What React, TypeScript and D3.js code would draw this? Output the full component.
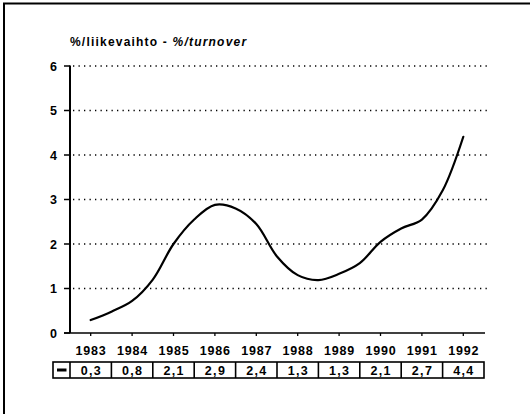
import React from "react";
import * as d3 from "d3";

const years = [1983, 1984, 1985, 1986, 1987, 1988, 1989, 1990, 1991, 1992];
const tableValues = ["0,3", "0,8", "2,1", "2,9", "2,4", "1,3", "1,3", "2,1", "2,7", "4,4"];
const curveX = [1983, 1983.5, 1984, 1984.5, 1985, 1985.5, 1986, 1986.5, 1987, 1987.5, 1988, 1988.5, 1989, 1989.5, 1990, 1990.5, 1991, 1991.5, 1992];
const curveY = [0.29, 0.48, 0.72, 1.2, 2.0, 2.55, 2.88, 2.8, 2.45, 1.72, 1.3, 1.19, 1.33, 1.57, 2.05, 2.35, 2.55, 3.2, 4.41];
const yTicks = [0, 1, 2, 3, 4, 5, 6];

const W = 530;
const H = 414;
const FONT = "'Liberation Sans', Arial, Helvetica, sans-serif";

export default function App() {
  const x = d3.scaleLinear().domain([1982.5, 1992.5]).range([70, 484]);
  const band = d3.scaleBand<number>().domain(years).range([70, 484]).padding(0);
  const y = d3.scaleLinear().domain([0, 6]).range([333, 66]);
  const pts: [number, number][] = curveX.map((d, i) => [d, curveY[i]]);
  const line = d3
    .line<[number, number]>()
    .x((d) => x(d[0]))
    .y((d) => y(d[1]))
    .curve(d3.curveCatmullRom.alpha(0.5));

  const tTop = 362;
  const tBot = 378;
  return (
    <svg
      width={W}
      height={H}
      style={{ position: "absolute", left: 0, top: 0, background: "#fff" }}
      fontFamily={FONT}
    >
      <rect x={0} y={0} width={W} height={H} fill="#fff" />
      {/* frame */}
      <line x1={3} x2={W} y1={3.5} y2={3.5} stroke="#000" strokeWidth={2} />
      <line x1={4} x2={4} y1={3} y2={H} stroke="#000" strokeWidth={2} />

      {/* title */}
      <text x={70} y={46} fontSize={12} fontWeight="bold" letterSpacing={1.2} fill="#000">
        %/liikevaihto -{" "}
        <tspan fontStyle="italic">%/turnover</tspan>
      </text>

      {/* grid */}
      {yTicks
        .filter((t) => t > 0)
        .map((t) => (
          <line
            key={"g" + t}
            x1={73}
            x2={488}
            y1={y(t)}
            y2={y(t)}
            stroke="#000"
            strokeWidth={1.3}
            strokeDasharray="1.3 4.2"
          />
        ))}

      {/* y axis */}
      <line x1={70} x2={70} y1={y(6) - 0.5} y2={y(0)} stroke="#000" strokeWidth={2} />
      {yTicks.map((t) => (
        <g key={"yt" + t}>
          <line x1={64} x2={70} y1={y(t)} y2={y(t)} stroke="#000" strokeWidth={1.5} />
          <text
            x={57}
            y={y(t) + 4.5}
            textAnchor="end"
            fontSize={12.5}
            fontWeight="bold"
            fill="#000"
          >
            {t}
          </text>
        </g>
      ))}

      {/* x axis */}
      <line x1={64} x2={485} y1={y(0)} y2={y(0)} stroke="#000" strokeWidth={1.6} />
      {years.map((yr) => {
        const cx = (band(yr) as number) + band.bandwidth() / 2;
        return (
          <g key={"xt" + yr}>
            <line x1={cx} x2={cx} y1={y(0)} y2={y(0) + 3} stroke="#000" strokeWidth={1.3} />
            <text
              x={cx + 0.4}
              y={355}
              textAnchor="middle"
              fontSize={12.5}
              fontWeight="bold"
              letterSpacing={0.8}
              fill="#000"
            >
              {yr}
            </text>
          </g>
        );
      })}

      {/* curve */}
      <path d={line(pts) || ""} fill="none" stroke="#000" strokeWidth={2.2} strokeLinejoin="round" strokeLinecap="round" />

      {/* table */}
      <rect x={53} y={tTop} width={484 - 53} height={tBot - tTop} fill="none" stroke="#000" strokeWidth={1.6} />
      <line x1={57} x2={66.5} y1={(tTop + tBot) / 2} y2={(tTop + tBot) / 2} stroke="#000" strokeWidth={3} />
      {years.map((yr, i) => {
        const bx = band(yr) as number;
        const cx = bx + band.bandwidth() / 2;
        return (
          <g key={"tb" + yr}>
            <line x1={bx} x2={bx} y1={tTop} y2={tBot} stroke="#000" strokeWidth={1.6} />
            <text
              x={cx + 0.6}
              y={375}
              textAnchor="middle"
              fontSize={12.5}
              fontWeight="bold"
              letterSpacing={1.3}
              fill="#000"
            >
              {tableValues[i]}
            </text>
          </g>
        );
      })}
    </svg>
  );
}
